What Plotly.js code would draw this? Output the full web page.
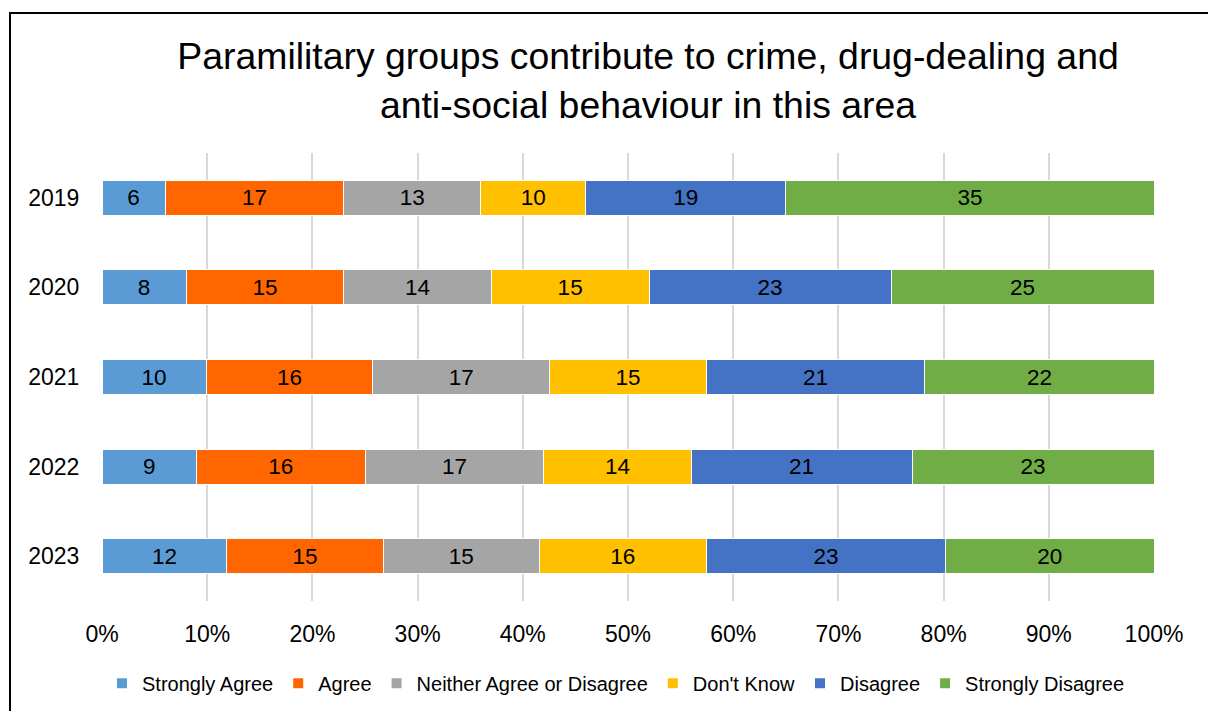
<!DOCTYPE html>
<html>
<head>
<meta charset="utf-8">
<script src="https://cdn.plot.ly/plotly-3.0.1.min.js"></script>
<style>
html,body{margin:0;padding:0;background:#fff;}
#wrap{position:relative;width:1208px;height:711px;overflow:hidden;}
#chart{position:absolute;left:0;top:0;width:1208px;height:711px;}
#frame{position:absolute;left:9px;top:12px;width:1300px;height:800px;border-left:2px solid #000;border-top:2px solid #000;pointer-events:none;}
</style>
</head>
<body>
<div id="wrap"><div id="chart"></div><div id="frame"></div></div>
<script>
const years = ["2019", "2020", "2021", "2022", "2023"];
const seriesNames = ["Strongly Agree", "Agree", "Neither Agree or Disagree", "Don't Know", "Disagree", "Strongly Disagree"];
const stronglyAgree = [6, 8, 10, 9, 12];
const agree = [17, 15, 16, 16, 15];
const neither = [13, 14, 17, 17, 15];
const dontKnow = [10, 15, 15, 14, 16];
const disagree = [19, 23, 21, 21, 23];
const stronglyDisagree = [35, 25, 22, 23, 20];
const colors = ["#5B9BD5", "#FF6600", "#A5A5A5", "#FFC000", "#4472C4", "#70AD47"];
const xTicks = [0, 10, 20, 30, 40, 50, 60, 70, 80, 90, 100];
const xTickLabels = ["0%", "10%", "20%", "30%", "40%", "50%", "60%", "70%", "80%", "90%", "100%"];

const allSeries = [stronglyAgree, agree, neither, dontKnow, disagree, stronglyDisagree];
const font = "Liberation Sans, Arial, sans-serif";

const traces = allSeries.map((vals, i) => ({
  type: "bar",
  orientation: "h",
  name: seriesNames[i],
  y: years,
  x: vals,
  text: vals.map(String),
  textposition: "inside",
  insidetextanchor: "middle",
  textangle: 0,
  constraintext: "none",
  textfont: {family: font, size: 22.5, color: "#000"},
  marker: {color: colors[i], line: {color: "#ffffff", width: 1}},
  hoverinfo: "skip"
}));

const layout = {
  width: 1208,
  height: 711,
  paper_bgcolor: "rgba(0,0,0,0)",
  plot_bgcolor: "rgba(0,0,0,0)",
  barmode: "stack",
  barnorm: "percent",
  bargap: 0.61,
  margin: {l: 102, r: 54, t: 153, b: 110, autoexpand: false},
  font: {family: font, color: "#000"},
  title: {
    text: "Paramilitary groups contribute to crime, drug-dealing and<br>anti-social behaviour in this area",
    font: {family: font, size: 37.4, color: "#000"},
    x: 648 / 1208,
    xref: "container",
    xanchor: "center",
    y: 1 - 69 / 711,
    yref: "container",
    yanchor: "middle"
  },
  xaxis: {
    range: [0, 100],
    tickmode: "array",
    tickvals: xTicks,
    ticktext: xTickLabels,
    showgrid: true,
    gridcolor: "#d9d9d9",
    gridwidth: 2,
    zeroline: false,
    showline: false,
    ticks: "outside",
    ticklen: 12,
    tickcolor: "rgba(0,0,0,0)",
    tickfont: {family: font, size: 23, color: "#000"},
    fixedrange: true
  },
  yaxis: {
    categoryorder: "array",
    categoryarray: years,
    autorange: "reversed",
    showgrid: false,
    zeroline: false,
    showline: false,
    ticks: "outside",
    ticklen: 17,
    tickcolor: "rgba(0,0,0,0)",
    tickfont: {family: font, size: 23, color: "#000"},
    fixedrange: true
  },
  legend: {
    orientation: "h",
    x: 0.5 - 12 / 1052,
    xanchor: "center",
    y: -0.14,
    yanchor: "top",
    traceorder: "normal",
    font: {family: font, size: 20, color: "#000"},
    itemwidth: 20,
    itemsizing: "constant"
  },
  showlegend: true
};

Plotly.newPlot("chart", traces, layout, {displayModeBar: false, staticPlot: true});
</script>
</body>
</html>
